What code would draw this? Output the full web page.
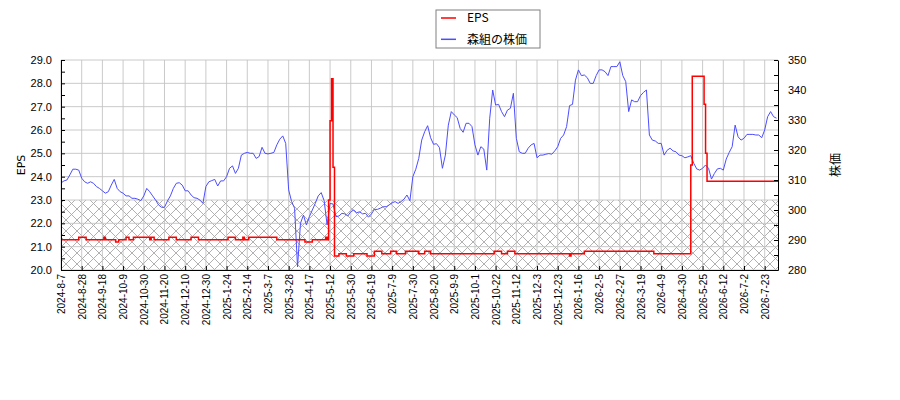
<!DOCTYPE html>
<html>
<head>
<meta charset="utf-8">
<script src="https://cdn.jsdelivr.net/npm/d3@7"></script>
<style>
  body { margin: 0; background: #fff; }
  svg { font-family: "DejaVu Sans", sans-serif; }
</style>
</head>
<body>
<div id="chart"></div>
<script>
// Tick labels on the x axis (one every 14 trading days)
let tickLabels = [
  "2024-8-7", "2024-8-28", "2024-9-18", "2024-10-9", "2024-10-30",
  "2024-11-20", "2024-12-10", "2024-12-30", "2025-1-24", "2025-2-14",
  "2025-3-7", "2025-3-28", "2025-4-17", "2025-5-12", "2025-5-30",
  "2025-6-19", "2025-7-9", "2025-7-30", "2025-8-20", "2025-9-9",
  "2025-10-1", "2025-10-22", "2025-11-12", "2025-12-3", "2025-12-23",
  "2026-1-16", "2026-2-5", "2026-2-27", "2026-3-19", "2026-4-9",
  "2026-4-30", "2026-5-25", "2026-6-12", "2026-7-2", "2026-7-23",
];
let tickStep = 14;
let lastIndex = 485;

// Share price, one value every 2 trading days
let priceStep = 2;
let price = [
  309, 309.7, 310, 311.7, 313.6, 313.6, 313.3, 310.6, 309.4, 308.9,
  309.4, 308.9, 307.8, 307.2, 306.4, 305.6, 306.1, 308.3, 310.2, 307.2,
  306.1, 305.6, 304.7, 304.7, 303.9, 303.9, 303.6, 303.1, 304.7, 307.2,
  306.1, 304.7, 303.3, 301.7, 300.9, 300.9, 303, 304.7, 307.2, 308.9,
  309.1, 308.3, 306.4, 306.4, 305, 304.1, 303.9, 303.3, 302.2, 307.8,
  309.4, 309.8, 310.2, 308, 309.7, 309.7, 311.1, 313.9, 314.7, 312.2,
  313.9,
  318.3, 318.9, 319.2, 318.9, 318.9, 317.2, 317.8, 320.9, 318.9, 318.7,
  318.9, 319.2, 321.7, 323.6, 324.7, 322.2, 306.7, 302.8, 300.6, 281,
  295.6, 298.3, 295, 297.8, 300, 302.2, 304.7, 305.8, 303.1, 295,
  302.2, 302, 297.8, 298, 298.9, 298.7, 298, 299.4, 300, 299.1,
  299.4, 298.7, 298.9, 297.6, 298.7, 300.2, 300.2, 300.6, 301.1, 301.1,
  301.7, 302.4, 302.8, 302.2, 302.8, 303.6, 305, 303.1, 311.1, 313.6,
  317.2,
  323.3, 326.1, 328.1, 324.1, 321.9, 322.1, 320.8, 313.9, 318.3, 328.3,
  332.8, 331.7, 330.8, 327.2, 325.9, 328.9, 328.9, 327.8, 321.7, 318.3,
  321.1, 320.3, 313.3, 330.6, 340, 335, 335.2, 332.8, 331.1, 333.3,
  333.9, 338.9, 323.9, 319.4, 318.9, 318.9, 320.6, 321.7, 322.2, 317.4,
  318.3, 318.3, 318.6, 318.8, 318.6, 319.7, 321.1, 323.9, 325, 327.8,
  334.8, 335.2, 343.3, 346.7, 344.8, 345, 344.1, 342.2, 342.2, 344.8,
  346.7,
  346.7, 346.1, 344.8, 347.8, 347.8, 347.8, 349.4, 344.8, 342.8, 332.8,
  336.7, 336.1, 336.1, 338.1, 339.2, 340, 325, 323.3, 323, 322.2,
  322.2, 318.3, 319.9, 320.6, 319.7, 319.4, 318.3, 318.1, 317.4, 317.7,
  318.1, 315.6, 313.7, 313.3, 313.9, 315, 313.9, 310.3, 312.2, 313.7,
  313.9, 313.3, 317, 319.2, 321.1, 328.3, 324.4, 323.3, 323.9, 325.2,
  325.2, 325.2, 325, 325, 324.1, 326.7, 331.1, 332.8, 331.1, 330.6,
];

// EPS: trading-day index where the value changes, and the new value
let epsIndex = [
  0, 12, 17, 29, 30, 37, 39, 44, 46, 49,
  60, 61, 63, 73, 78, 88, 93, 113, 118, 123,
  124, 127, 146, 165, 170, 179, 180, 181, 182, 183,
  184, 185, 188, 193, 198, 207, 212, 217, 223, 227,
  233, 242, 246, 250, 293, 298, 302, 307, 344, 345,
  354, 401, 426, 427, 435, 436, 437, 485,
];
let epsValue = [
  21.3, 21.4, 21.3, 21.4, 21.3, 21.2, 21.3, 21.4, 21.3, 21.4,
  21.3, 21.4, 21.3, 21.4, 21.3, 21.4, 21.3, 21.4, 21.3, 21.4,
  21.3, 21.4, 21.3, 21.2, 21.3, 21.4, 21.3, 23.0, 26.4, 28.2,
  24.4, 20.6, 20.7, 20.6, 20.7, 20.6, 20.8, 20.7, 20.8, 20.7,
  20.8, 20.7, 20.8, 20.7, 20.8, 20.7, 20.8, 20.7, 20.6, 20.7,
  20.8, 20.7, 24.5, 28.3, 27.1, 25.0, 23.8, 23.8,
];

// Hatched band on the EPS axis
let hatchTop = 23.0;

// Legend entries
let seriesNames = ["EPS", "森組の株価"];

// Set up dimensions
let width = 900;
let height = 400;
let margin = { top: 60, right: 122, bottom: 130, left: 61 };

// Set up colors
let epsColor = "#ff0000";
let priceColor = "#4d4dff";
let gridColor = "#c4c4c4";
let hatchColor = "#a8a8a8";

// Build data rows
let priceData = price.map((value, i) => ({ index: i * priceStep, value }));
let epsData = epsIndex.map((index, i) => ({ index, value: epsValue[i] }));
let tickIndex = tickLabels.map((label, i) => i * tickStep);

// Set up scales
let xScale = d3
  .scaleLinear()
  .domain([0, lastIndex])
  .range([margin.left, width - margin.right]);

let yEps = d3
  .scaleLinear()
  .domain([20, 29])
  .range([height - margin.bottom, margin.top]);

let yPrice = d3
  .scaleLinear()
  .domain([280, 350])
  .range([height - margin.bottom, margin.top]);

const svg = d3
  .select("#chart")
  .append("svg")
  .attr("width", width)
  .attr("height", height);

// Hatch pattern
const pattern = svg
  .append("defs")
  .append("pattern")
  .attr("id", "hatch")
  .attr("patternUnits", "userSpaceOnUse")
  .attr("width", 11)
  .attr("height", 11);
pattern
  .append("path")
  .attr("d", "M-1,-1L12,12M-1,12L12,-1")
  .attr("stroke", hatchColor)
  .attr("stroke-width", 0.9)
  .attr("fill", "none");

// Draw hatched band
svg
  .append("rect")
  .attr("x", margin.left)
  .attr("width", width - margin.right - margin.left)
  .attr("y", yEps(hatchTop))
  .attr("height", yEps(20) - yEps(hatchTop))
  .attr("fill", "url(#hatch)");

// Draw grid
const grid = svg.append("g").attr("class", "grid");
grid
  .selectAll("line.v")
  .data(tickIndex)
  .join("line")
  .attr("class", "v")
  .attr("x1", (d) => xScale(d))
  .attr("x2", (d) => xScale(d))
  .attr("y1", margin.top)
  .attr("y2", height - margin.bottom)
  .attr("stroke", gridColor)
  .attr("stroke-width", 0.9);
grid
  .selectAll("line.h")
  .data(d3.range(20, 30))
  .join("line")
  .attr("class", "h")
  .attr("x1", margin.left)
  .attr("x2", width - margin.right)
  .attr("y1", (d) => yEps(d))
  .attr("y2", (d) => yEps(d))
  .attr("stroke", gridColor)
  .attr("stroke-width", 0.9);

// Draw price line
svg
  .append("path")
  .datum(priceData)
  .attr("fill", "none")
  .attr("stroke", priceColor)
  .attr("stroke-width", 1)
  .attr(
    "d",
    d3
      .line()
      .x((d) => xScale(d.index))
      .y((d) => yPrice(d.value))
  );

// Draw EPS line
svg
  .append("path")
  .datum(epsData)
  .attr("fill", "none")
  .attr("stroke", epsColor)
  .attr("stroke-width", 1.5)
  .attr(
    "d",
    d3
      .line()
      .curve(d3.curveStepAfter)
      .x((d) => xScale(d.index))
      .y((d) => yEps(d.value))
  );

// Draw x axis
const xAxisG = svg
  .append("g")
  .attr("class", "x axis")
  .attr("transform", `translate(0,${height - margin.bottom})`)
  .call(
    d3
      .axisBottom(xScale)
      .tickValues(tickIndex)
      .tickSize(-4)
      .tickSizeOuter(0)
      .tickFormat((d, i) => tickLabels[i])
  );
xAxisG
  .selectAll("text")
  .attr("transform", "rotate(-90)")
  .attr("text-anchor", "end")
  .attr("x", -4)
  .attr("y", 0)
  .attr("dy", "0.35em")
  .attr("font-size", 10)
  .attr("fill", "#000");

// Draw left axis
const yAxisG = svg
  .append("g")
  .attr("class", "y axis")
  .attr("transform", `translate(${margin.left},0)`)
  .call(
    d3
      .axisLeft(yEps)
      .tickValues(d3.range(20, 29.5, 0.5))
      .tickSize(-4)
      .tickSizeOuter(0)
      .tickPadding(9)
      .tickFormat((d) => (Number.isInteger(d) ? d3.format(".1f")(d) : ""))
  );
yAxisG.selectAll("text").attr("font-size", 11).attr("fill", "#000");

// Draw right axis
const y2AxisG = svg
  .append("g")
  .attr("class", "y2 axis")
  .attr("transform", `translate(${width - margin.right},0)`)
  .call(
    d3
      .axisRight(yPrice)
      .tickValues(d3.range(280, 351, 5))
      .tickSize(-4)
      .tickSizeOuter(0)
      .tickPadding(10)
      .tickFormat((d) => (d % 10 === 0 ? d : ""))
  );
y2AxisG.selectAll("text").attr("font-size", 11).attr("fill", "#000");

// Axis titles
svg
  .append("text")
  .attr("transform", `translate(21,${(margin.top + height - margin.bottom) / 2}) rotate(-90)`)
  .attr("text-anchor", "middle")
  .attr("dy", "0.35em")
  .attr("font-size", 11)
  .text("EPS");

svg
  .append("text")
  .attr("transform", `translate(836,${(margin.top + height - margin.bottom) / 2}) rotate(-90)`)
  .attr("text-anchor", "middle")
  .attr("dy", "0.35em")
  .attr("font-size", 12)
  .attr("font-family", "'Noto Sans CJK JP', sans-serif")
  .text("株価");

// Draw legend
const legend = svg.append("g").attr("class", "legend").attr("transform", "translate(436,10)");
legend
  .append("rect")
  .attr("width", 104)
  .attr("height", 38)
  .attr("fill", "#fff")
  .attr("stroke", "#808080")
  .attr("stroke-width", 1);

const legendItem = legend
  .selectAll("g")
  .data(seriesNames)
  .join("g")
  .attr("transform", (d, i) => `translate(0,${8 + i * 21.3})`);

legendItem
  .append("line")
  .attr("x1", 5)
  .attr("x2", 20)
  .attr("stroke", (d, i) => (i === 0 ? epsColor : priceColor))
  .attr("stroke-width", (d, i) => (i === 0 ? 1.5 : 1.5));

legendItem
  .append("text")
  .attr("x", 31)
  .attr("dy", "0.35em")
  .attr("font-size", 12)
  .attr("font-family", "'Noto Sans CJK JP', sans-serif")
  .text((d) => d);
</script>
</body>
</html>
